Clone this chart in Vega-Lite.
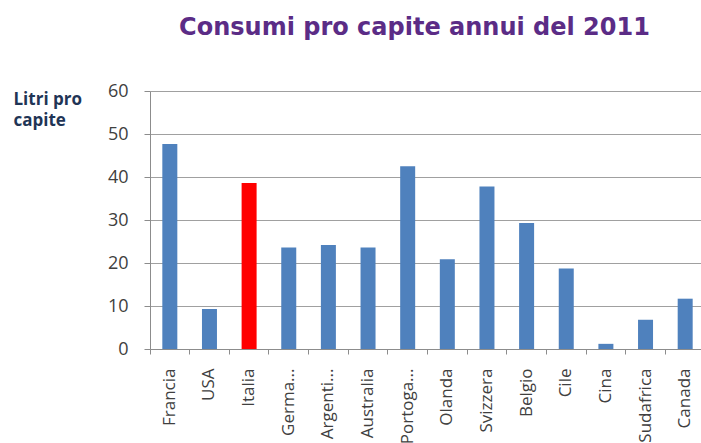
{
  "$schema": "https://vega.github.io/schema/vega-lite/v6.json",
  "width": 551,
  "height": 258,
  "autosize": {"type": "none"},
  "padding": {"left": 150, "top": 91, "right": 0, "bottom": 94},
  "background": "white",
  "title": {
    "text": "Consumi pro capite annui del 2011",
    "font": "DejaVu Sans",
    "fontWeight": "bold",
    "fontSize": 24,
    "color": "#5B2C86",
    "anchor": "middle",
    "dx": -11,
    "offset": 42
  },
  "data": {
    "values": [
      {"paese": "Francia", "litri": 47.7},
      {"paese": "USA", "litri": 9.3},
      {"paese": "Italia", "litri": 38.6},
      {"paese": "Germania", "litri": 23.6},
      {"paese": "Argentina", "litri": 24.2},
      {"paese": "Australia", "litri": 23.6},
      {"paese": "Portogallo", "litri": 42.5},
      {"paese": "Olanda", "litri": 20.9},
      {"paese": "Svizzera", "litri": 37.8},
      {"paese": "Belgio", "litri": 29.3},
      {"paese": "Cile", "litri": 18.7},
      {"paese": "Cina", "litri": 1.2},
      {"paese": "Sudafrica", "litri": 6.8},
      {"paese": "Canada", "litri": 11.7}
    ]
  },
  "layer": [
    {
      "mark": {"type": "bar", "size": 15},
      "encoding": {
        "x": {
          "field": "paese",
          "type": "nominal",
          "sort": null,
          "scale": {"paddingInner": 0, "paddingOuter": 0, "range": [0, 555]},
          "axis": {
            "title": null,
            "orient": "bottom",
            "labelAngle": -90,
            "labelAlign": "right",
            "labelBaseline": "middle",
            "labelFont": "Open Sans",
            "labelFontSize": 17,
            "labelColor": "#404040",
            "labelPadding": 19,
            "labelExpr": "datum.label == 'Germania' ? 'Germa...' : datum.label == 'Argentina' ? 'Argenti...' : datum.label == 'Portogallo' ? 'Portoga...' : datum.label",
            "ticks": false,
            "domain": true,
            "domainColor": "#8C8C8C",
            "grid": false
          }
        },
        "y": {
          "field": "litri",
          "type": "quantitative",
          "scale": {"domain": [0, 60]},
          "axis": {
            "values": [0, 10, 20, 30, 40, 50, 60],
            "title": ["Litri pro", "capite"],
            "titleAngle": 0,
            "titleAlign": "left",
            "titleBaseline": "top",
            "titleX": -137,
            "titleY": 0,
            "titleFont": "Open Sans",
            "titleFontWeight": "bold",
            "titleFontSize": 17,
            "titleColor": "#1F3556",
            "titleLineHeight": 21,
            "labelFont": "Open Sans",
            "labelFontSize": 18,
            "labelColor": "#404040",
            "labelPadding": 16,
            "tickSize": 6,
            "tickColor": "#8C8C8C",
            "domainColor": "#8C8C8C",
            "grid": true,
            "gridColor": "#A0A0A0"
          }
        },
        "color": {
          "condition": {"test": "datum.paese === 'Italia'", "value": "#FF0000"},
          "value": "#4F81BD"
        }
      }
    },
    {
      "mark": {"type": "bar", "opacity": 0},
      "encoding": {
        "x": {
          "field": "paese",
          "type": "nominal",
          "sort": null,
          "axis": {
            "title": null,
            "orient": "bottom",
            "bandPosition": 0,
            "labels": false,
            "ticks": true,
            "tickSize": 5,
            "tickColor": "#8C8C8C",
            "domain": false,
            "grid": false
          }
        },
        "y": {"field": "litri", "type": "quantitative"}
      }
    }
  ],
  "resolve": {"axis": {"x": "independent"}},
  "config": {"view": {"stroke": null}}
}
